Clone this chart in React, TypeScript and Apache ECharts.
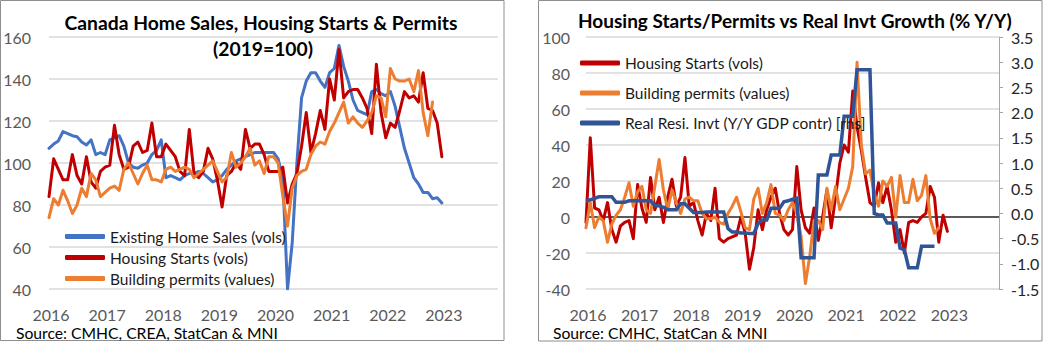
import React, { useEffect, useRef } from "react";
import * as echarts from "echarts";

// Monthly categories Jan 2016 .. Jan 2024
const MONTHS: string[] = [];
for (let y = 2016; y <= 2024; y++) {
  for (let m = 1; m <= 12; m++) {
    if (y === 2024 && m > 1) break;
    MONTHS.push(`${y}-${String(m).padStart(2, "0")}`);
  }
}
const LAST_LABEL_YEAR = "2023";

// Left chart: index 2019 = 100
const HOME_SALES = [
  107, 109, 110.5, 115, 114, 113, 112.5, 110, 108.6, 111,
  104, 105, 104, 111, 112, 113, 108, 100, 98, 97.5,
  99, 100, 104, 106, 111, 93, 94, 93, 92, 94,
  95, 95, 96, 95, 93, 91, 92, 94, 97, 99,
  101, 102, 103, 104, 105, 105, 105, 105, 105, 102,
  92, 40, 62, 100, 131, 139, 143, 143, 139, 136,
  143, 145, 156, 146, 139, 130, 125, 124, 123, 134,
  135, 133, 132, 134, 127, 117, 107, 100, 93, 90,
  86, 86, 83, 83.5, 81,
];
const STARTS_LVL = [
  84, 102, 97, 92, 92, 104, 94, 90, 103, 91,
  88, 96, 98, 99, 118, 104, 97, 98, 108, 110,
  105, 106, 119, 103, 103, 109, 106, 103, 96, 94,
  116, 95, 93, 96, 107, 102, 92, 79, 94, 96,
  100, 97, 116, 107, 109, 109, 104, 96, 96, 96,
  98, 81, 90, 95, 108, 124, 105, 114, 125, 116,
  140, 130, 154, 131, 134, 135, 135, 131, 126, 114,
  147, 124, 112, 119, 117, 125, 134, 131, 132, 129,
  143, 126, 125, 119, 103,
];
const PERMITS_LVL = [
  74, 83, 80, 87, 82, 76, 80, 88, 84, 95,
  92, 84, 86, 88, 89, 87, 97, 100, 95, 90,
  95, 99, 92, 92, 91, 97, 98, 96, 97, 98,
  97, 93, 95, 97, 99, 101, 96, 91, 93, 105,
  98, 100, 103, 107, 99, 101, 95, 103, 103, 100,
  84, 70, 88, 94, 96, 97, 104, 108, 110, 109,
  115, 119, 124, 129, 119, 122, 119, 117, 120, 124,
  132, 131, 122, 145, 140, 139, 139, 140, 134, 144,
  124, 113, 129,
];

// Right chart: % Y/Y
const STARTS_YY = [
  -3, 44, 5, 4, -2, 8, -7, -14, -5, -3,
  -2, -12, 18, 5, -3, 22, 4, 11, -3, 11,
  21, 6, 11, 33, 6, 8, -2, -10, 2, -2,
  16, -12, -14, -12, -11, -10, 0, -9, -29, -17,
  4, -7, 4, 11, 16, 2, -7, -10, -7, 28,
  4, -6, -9, 5, -13, 0, 15, -6, 11, 30,
  40, 36, 70, 50, 37, 22, 8, 6, 19, 8,
  17, 4, -14, -7, -20, -3, -2, -3, 0, 2,
  17, 11, -14, 1, -8,
];
const PERMITS_YY = [
  -6, 8, -6, 0, -2, -14, -4, 1, 4, 11,
  19, 6, 14, 17, 4, 2, 17, 32, 15, 4,
  15, 8, 2, 10, 11, 9, 9, 2, -1, -1,
  0, -3, -4, 2, 6, 11, 3, -6, -7, 10,
  16, 2, 8, 18, 2, 1, -2, 4, 8, 2,
  -11, -37, -22, -2, -2, -7, 16, 4, 17, 4,
  10, 16, 28, 86, 40, 24, 26, 13, 6, 20,
  17, 22, 0, 23, 8, 8, 21, 9, 12, 23,
  -1, -9, -6,
];
const RESI_INVT = [
  0.25, 0.27, 0.3, 0.33, 0.33, 0.33, 0.33, 0.22, 0.22, 0.22,
  0.25, 0.25, 0.25, 0.25, 0.25, 0.25, 0.15, 0.15, 0.12, 0.07,
  0.07, 0.07, 0.19, 0.19, 0.1, 0.02, 0.02, 0.02, 0.03, 0.03,
  0.03, 0.03, 0.03, -0.3, -0.37, -0.37, -0.39, -0.39, -0.4, -0.4,
  -0.2, -0.13, -0.13, 0.1, 0.1, 0.1, 0.23, 0.25, 0.28, 0.3,
  -0.88, -0.88, -0.88, -0.88, 0.76, 0.76, 0.76, 1.16, 1.16, 1.16,
  1.93, 1.93, 1.93, 2.85, 2.85, 2.85, 2.85, 0.0, -0.03, -0.03,
  -0.19, -0.19, -0.19, -0.69, -0.72, -1.08, -1.08, -1.08, -0.65, -0.65,
  -0.65, -0.65,
];

const LEFT_Y_TICKS = { min: 40, max: 160, interval: 20 };
const RIGHT_Y_TICKS = { min: -40, max: 100, interval: 20 };
const RHS_TICKS = { min: -1.5, max: 3.5, interval: 0.5 };

const NAMES = {
  sales: "Existing Home Sales (vols)",
  starts: "Housing Starts (vols)",
  permits: "Building permits (values)",
  invt: "Real Resi. Invt (Y/Y GDP contr) [rhs]",
};

const C_BLUE_L = "#4472C4";
const C_BLUE_R = "#2F5597";
const C_RED = "#C00000";
const C_ORANGE = "#ED7D31";
const FONT = "Lato";

function buildOption(): echarts.EChartsCoreOption {
  const xAxisBase = (gridIndex: number) => ({
    gridIndex,
    type: "category",
    data: MONTHS,
    boundaryGap: false,
    axisLine: { show: false },
    axisTick: { show: false },
    splitLine: { show: false },
    axisLabel: {
      interval: (_i: number, v: string) =>
        v.endsWith("-01") && v.slice(0, 4) <= LAST_LABEL_YEAR,
      formatter: (v: string) => v.slice(0, 4),
      color: "#595959",
      fontSize: 16,
      fontFamily: FONT,
      margin: 17,
      padding: [0, 0, 0, 4],
    },
  });
  const gridLine = { lineStyle: { color: "#D9D9D9", width: 1.5 } };
  const lineSeries = (
    name: string,
    data: number[],
    color: string,
    xi: number,
    yi: number,
    extra: object = {}
  ) => ({
    type: "line",
    name,
    data,
    xAxisIndex: xi,
    yAxisIndex: yi,
    showSymbol: false,
    symbol: "none",
    lineStyle: { color, width: 3, cap: "round", join: "round" },
    itemStyle: { color },
    ...extra,
  });
  const legendBase = {
    orient: "vertical",
    icon: "roundRect",
    itemWidth: 40,
    itemHeight: 5,
    itemGap: 0,
    padding: 0,
    selectedMode: false,
    textStyle: { fontSize: 15.5, fontFamily: FONT, color: "#1a1a1a" },
  };

  return {
    animation: false,
    textStyle: { fontFamily: FONT },
    grid: [
      { left: 49, top: 37, width: 449, height: 252 },
      { left: 586, top: 37, width: 413, height: 252 },
    ],
    xAxis: [xAxisBase(0), xAxisBase(1)],
    yAxis: [
      {
        gridIndex: 0,
        type: "value",
        ...LEFT_Y_TICKS,
        axisLine: { show: false },
        axisTick: { show: false },
        splitLine: gridLine,
        axisLabel: { color: "#595959", fontSize: 16, fontFamily: FONT, margin: 18 },
      },
      {
        gridIndex: 1,
        type: "value",
        ...RIGHT_Y_TICKS,
        axisLine: { show: false },
        axisTick: { show: false },
        splitLine: gridLine,
        axisLabel: { color: "#595959", fontSize: 16, fontFamily: FONT, margin: 16 },
      },
      {
        gridIndex: 1,
        type: "value",
        position: "right",
        ...RHS_TICKS,
        axisLine: { show: true, lineStyle: { color: "#A6A6A6", width: 1 } },
        axisTick: { show: true, length: 4, lineStyle: { color: "#A6A6A6" } },
        splitLine: { show: false },
        axisLabel: {
          color: "#262626",
          fontSize: 16,
          fontFamily: FONT,
          margin: 12,
          formatter: (v: number) => v.toFixed(1),
        },
      },
    ],
    legend: [
      {
        ...legendBase,
        data: [NAMES.sales, NAMES.starts, NAMES.permits],
        left: 65,
        top: 226,
        textStyle: { ...legendBase.textStyle, lineHeight: 21 },
      },
      {
        ...legendBase,
        data: [NAMES.starts, NAMES.permits, NAMES.invt],
        left: 580,
        top: 48,
        textStyle: { ...legendBase.textStyle, lineHeight: 30 },
      },
    ],
    series: [
      lineSeries(NAMES.sales, HOME_SALES, C_BLUE_L, 0, 0),
      lineSeries(NAMES.starts, STARTS_LVL, C_RED, 0, 0),
      lineSeries(NAMES.permits, PERMITS_LVL, C_ORANGE, 0, 0),
      lineSeries(NAMES.starts, STARTS_YY, C_RED, 1, 1, {
        markLine: {
          silent: true,
          symbol: "none",
          label: { show: false },
          lineStyle: { color: "#595959", width: 2, type: "solid" },
          data: [{ yAxis: 0 }],
          z: 1,
        },
      }),
      lineSeries(NAMES.permits, PERMITS_YY, C_ORANGE, 1, 1),
      lineSeries(NAMES.invt, RESI_INVT, C_BLUE_R, 1, 2, {
        lineStyle: { color: C_BLUE_R, width: 3.5, join: "miter" },
      }),
    ],
    graphic: [
      {
        type: "rect",
        shape: { x: 0.5, y: 0.5, width: 503.5, height: 340 },
        style: { fill: "none", stroke: "#8E8E8E", lineWidth: 1 },
        silent: true,
      },
      {
        type: "rect",
        shape: { x: 538.5, y: 0.5, width: 503.5, height: 340.5 },
        style: { fill: "none", stroke: "#8E8E8E", lineWidth: 1 },
        silent: true,
      },
      {
        type: "text",
        x: 261,
        y: 22,
        style: {
          text: "Canada Home Sales, Housing Starts & Permits",
          font: `bold 19.3px ${FONT}`,
          fill: "#000",
          textAlign: "center",
          textVerticalAlign: "middle",
        },
      },
      {
        type: "text",
        x: 263,
        y: 48,
        style: {
          text: "(2019=100)",
          font: `bold 19.3px ${FONT}`,
          fill: "#000",
          textAlign: "center",
          textVerticalAlign: "middle",
        },
      },
      {
        type: "text",
        x: 578,
        y: 20,
        style: {
          text: "Housing Starts/Permits vs Real Invt Growth (% Y/Y)",
          font: `bold 19px ${FONT}`,
          fill: "#000",
          textAlign: "left",
          textVerticalAlign: "middle",
        },
      },
      {
        type: "text",
        x: 16,
        y: 333,
        style: {
          text: "Source: CMHC, CREA, StatCan & MNI",
          font: `15.7px ${FONT}`,
          fill: "#000",
          textAlign: "left",
          textVerticalAlign: "middle",
        },
      },
      {
        type: "text",
        x: 553,
        y: 333,
        style: {
          text: "Source: CMHC, StatCan & MNI",
          font: `15.7px ${FONT}`,
          fill: "#000",
          textAlign: "left",
          textVerticalAlign: "middle",
        },
      },
    ],
  };
}

export default function App() {
  const ref = useRef<HTMLDivElement>(null);
  useEffect(() => {
    if (!ref.current) return;
    const chart = echarts.init(ref.current, null, { renderer: "svg" });
    chart.setOption(buildOption());
    return () => chart.dispose();
  }, []);
  return (
    <div
      ref={ref}
      style={{
        position: "fixed",
        left: 0,
        top: 0,
        width: 1043,
        height: 342,
        background: "#fff",
      }}
    />
  );
}
